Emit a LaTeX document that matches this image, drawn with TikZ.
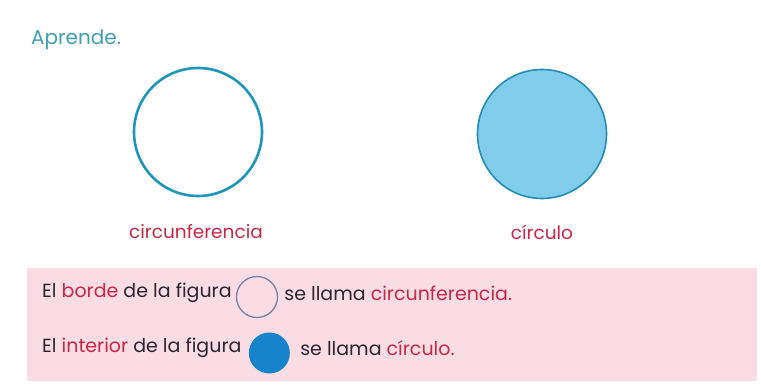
\documentclass[tikz,border=0pt]{standalone}
\usepackage{fontspec}
\setmainfont{Poppins}
\usetikzlibrary{positioning}

\definecolor{headteal}{RGB}{62,160,178}
\definecolor{ringteal}{RGB}{30,150,185}
\definecolor{discfill}{RGB}{128,206,236}
\definecolor{discedge}{RGB}{38,140,180}
\definecolor{wordred}{RGB}{200,40,72}
\definecolor{inkgrey}{RGB}{45,38,48}
\definecolor{pinkbg}{RGB}{250,220,229}
\definecolor{smallring}{RGB}{120,128,165}
\definecolor{smalldisc}{RGB}{22,132,202}

\newcommand{\redword}[1]{\textcolor{wordred}{#1}}

\begin{document}
\begin{tikzpicture}[x=1pt,y=-1pt,node distance=3pt,
    bigring/.style={circle,draw=ringteal,line width=2.6pt,fill=white,minimum size=128pt,inner sep=0pt},
    bigdisc/.style={circle,draw=discedge,line width=1.6pt,fill=discfill,minimum size=129pt,inner sep=0pt},
    caption/.style={text=wordred,font=\fontsize{18.5}{22}\selectfont},
    rowtext/.style={text=inkgrey,font=\fontsize{19}{22}\selectfont,inner sep=0pt},
    mini ring/.style={circle,draw=smallring,line width=1.3pt,fill=pinkbg,minimum size=41pt,inner sep=0pt,yshift=-4pt},
    mini disc/.style={circle,fill=smalldisc,minimum size=41pt,inner sep=0pt,yshift=-5pt}]
  \useasboundingbox (0,0) rectangle (761,387);
  \fill[white] (0,0) rectangle (761,387);
  \fill[pinkbg] (27,268) rectangle (757,381);

  \node[anchor=west,text=headteal,font=\fontsize{20}{24}\selectfont,inner sep=0pt] (aprende) at (31,40) {Aprende.};

  \node[bigring] (ring) at (198,132) {};
  \node[bigdisc] (disc) at (542,134) {};
  \node[caption] (ringname) at (196,232) {circunferencia};
  \node[caption] (discname) at (542,232) {círculo};

  % first line
  \node[rowtext,anchor=west] (borde) at (42,293) {El \redword{borde} de la figura};
  \node[mini ring,right=4pt of borde] (minring) {};
  \node[rowtext,right=6pt of minring,yshift=4pt] (llama1) {se llama \redword{circunferencia.}};

  % second line
  \node[rowtext,anchor=west] (interior) at (42,348) {El \redword{interior} de la figura};
  \node[mini disc,right=7pt of interior] (mindisc) {};
  \node[rowtext,right=10pt of mindisc,yshift=5pt] (llama2) {se llama \redword{círculo.}};
\end{tikzpicture}
\end{document}
